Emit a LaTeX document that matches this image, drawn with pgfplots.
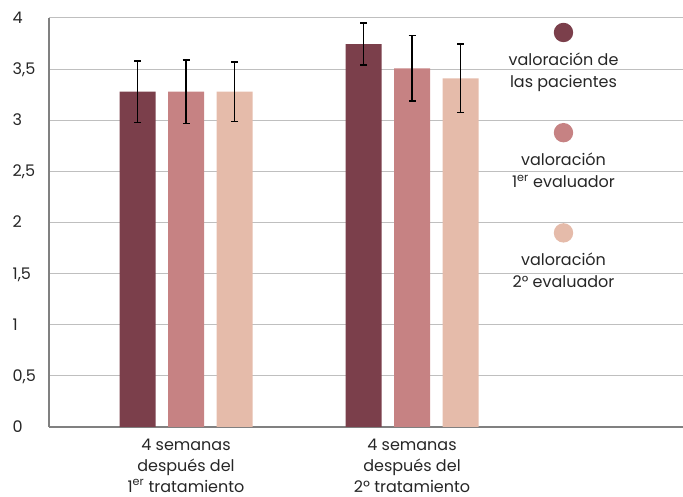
\documentclass[border=0pt]{standalone}
\usepackage{pgfplots}
\pgfplotsset{compat=1.18}
\usepackage{fontspec}
\setmainfont{Poppins}
\definecolor{pac}{HTML}{7B3F4B}
\definecolor{evuno}{HTML}{C68283}
\definecolor{evdos}{HTML}{E5BBAA}
\newcommand{\legdot}[1]{\tikz\fill[#1] (0,0) circle (9.7pt);}
\begin{document}
\begin{tikzpicture}
\useasboundingbox (0,0) rectangle (683pt,497pt);
\begin{axis}[
    at={(49pt,70pt)}, anchor=south west,
    scale only axis,
    width=634pt, height=409pt,
    xmin=-0.6062, xmax=2.1991,
    ymin=0, ymax=4,
    axis x line=bottom, axis y line=left,
    axis line style={-, draw=black!50, line width=1.2pt},
    ybar=12.5pt, bar width=36pt,
    xtick={0,1},
    xticklabels={{4 semanas\\después del\\1\textsuperscript{er} tratamiento},
                 {4 semanas\\después del\\2º tratamiento}},
    ytick={0,0.5,1,1.5,2,2.5,3,3.5,4},
    tick style={draw=none},
    major tick length=0pt,
    ymajorgrids=true,
    grid style={draw=black!25, line width=1pt},
    ticklabel style={font=\fontsize{16}{21}\selectfont, text=black!85},
    yticklabel style={anchor=base west, xshift=-36.5pt, yshift=-5.5pt, inner sep=0pt,
        /pgf/number format/use comma, /pgf/number format/assume math mode=true},
    xticklabel style={align=center, anchor=north, inner sep=0pt, yshift=-11.5pt},
    error bars/y dir=both,
    error bars/y explicit,
    error bars/error bar style={line width=1.3pt, black},
    error bars/error mark options={rotate=90, mark size=3.5pt, line width=1.3pt, black},
    legend image code/.code={},
    legend cell align=center,
    legend style={draw=none, fill=none, at={(0.8115,0.9888)}, anchor=north,
        inner sep=0pt, column sep=0pt, row sep=34pt,
        nodes={inner sep=0pt, align=center},
        font=\fontsize{16}{22}\selectfont, text=black!85},
]
\addplot[fill=pac, draw=none] coordinates {
    (0,3.28)  +- (0,0.30)
    (1,3.745) +- (0,0.205)
};
\addlegendentry{\legdot{pac}\\[1.3pt]valoración de\\las pacientes}
\addplot[fill=evuno, draw=none] coordinates {
    (0,3.28)  +- (0,0.31)
    (1,3.507) +- (0,0.32)
};
\addlegendentry{\legdot{evuno}\\[1.3pt]valoración\\1\textsuperscript{er} evaluador\vphantom{p}}
\addplot[fill=evdos, draw=none] coordinates {
    (0,3.28)  +- (0,0.29)
    (1,3.41)  +- (0,0.335)
};
\addlegendentry{\legdot{evdos}\\[1.3pt]valoración\\2° evaluador\vphantom{p}}
\end{axis}
\end{tikzpicture}
\end{document}
